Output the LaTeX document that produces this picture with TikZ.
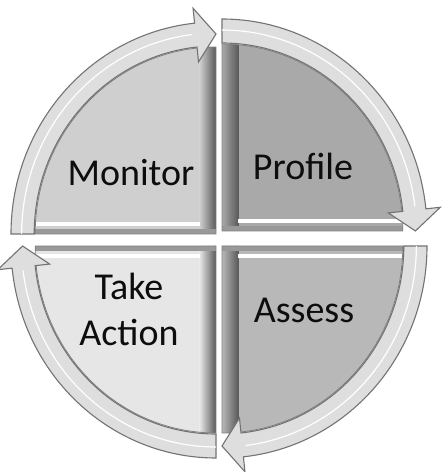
\documentclass[tikz,border=0pt]{standalone}
\usepackage{fontspec}
\setmainfont{Carlito}
\definecolor{monfill}{HTML}{CFCFCF}
\definecolor{profill}{HTML}{A9A9A9}
\definecolor{actfill}{HTML}{E6E6E6}
\definecolor{assfill}{HTML}{B8B8B8}
\definecolor{bandfill}{HTML}{DEDEDE}
\tikzset{
  band/.style={fill=bandfill, draw=black!55, line width=1.1pt, line join=miter},
  wedgeline/.style={draw=black!50, line width=0.8pt},
  label/.style={font=\fontsize{38}{46}\selectfont, text=black!95, inner sep=0pt, align=center},
}
% One quarter of the cycle: #1 corner, #2/#3 mirror signs for the wedge,
% #4 rotation of the arrow band, #5 wedge colour
\newcommand\cyclequad[5]{%
  \begin{scope}[shift={#1}, xscale=0.967]
    \begin{scope}[xscale=#2, yscale=#3]
      \fill[#5] (0,0) -- (180:187) arc[start angle=180, end angle=90, radius=187] -- cycle;
      \begin{scope}
        \clip (0,0) -- (180:187) arc[start angle=180, end angle=90, radius=187] -- cycle;
        \shade[left color=#5, right color=black!65] (-17,0) rectangle (0,190);
        \fill[black!40] (-190,0) rectangle (0,5);
        \fill[white] (-190,8) rectangle (-17,12);
      \end{scope}
      \path[wedgeline] (0,0) -- (180:187) arc[start angle=180, end angle=90, radius=187] -- cycle;
    \end{scope}
    \begin{scope}[rotate=#4]
      \path[band] (180:212) arc[start angle=180, end angle=96, radius=212]
        -- (96:227) -- (90:200) -- (96:173) -- (96:188)
        arc[start angle=96, end angle=180, radius=188] -- cycle;
      \draw[white, line width=1.2pt] (180:201) arc[start angle=180, end angle=97, radius=201];
    \end{scope}
  \end{scope}}
\begin{document}
\begin{tikzpicture}[x=1pt, y=1pt]
  \fill[white] (0,0) rectangle (446,472);
  \useasboundingbox (0,0) rectangle (446,472);

  % the four stages, clockwise from the top left
  \cyclequad{(216,238)}{1}{1}{0}{monfill}
  \cyclequad{(222,241)}{-1}{1}{-90}{profill}
  \cyclequad{(216,226)}{1}{-1}{90}{actfill}
  \cyclequad{(222,226)}{-1}{-1}{180}{assfill}

  \node[label, anchor=base] (monitor) at (131,286) {Monitor};
  \node[label, anchor=base] (profile) at (303,292) {Profile};
  \node[label, anchor=center] (action) at (129,163) {Take\\Action};
  \node[label, anchor=base] (assess) at (304,149) {Assess};
\end{tikzpicture}
\end{document}
